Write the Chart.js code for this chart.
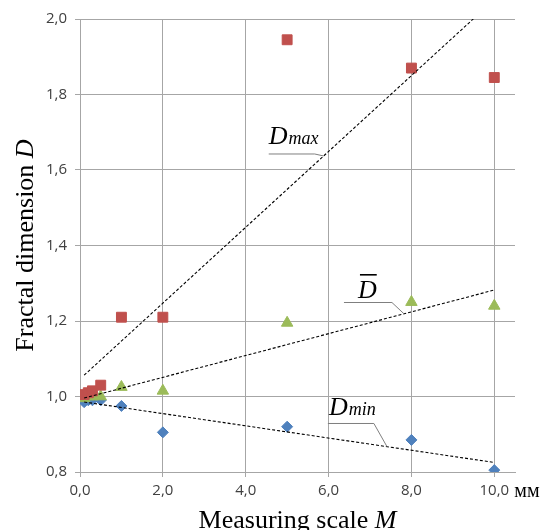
<!DOCTYPE html>
<html>
<head>
<meta charset="utf-8">
<script src="https://cdn.jsdelivr.net/npm/chart.js@4.4.1/dist/chart.umd.min.js"></script>
<style>
  html, body { margin: 0; padding: 0; background: #fff; }
  canvas { display: block; }
</style>
</head>
<body>
<canvas id="myChart" width="542" height="530"></canvas>
<script>
// meetschaal M (mm) en fractale dimensie per reeks
let schaalM = [0.1, 0.2, 0.3, 0.5, 1, 2, 5, 8, 10];
let dMax = [1.005, 1.01, 1.015, 1.03, 1.21, 1.21, 1.945, 1.87, 1.845];
let dGem = [0.995, 1.0, 1.0, 1.0, 1.025, 1.015, 1.195, 1.25, 1.24];
let dMin = [0.985, 0.99, 0.99, 0.99, 0.975, 0.905, 0.92, 0.885, 0.805];

let xTicks = [0, 2, 4, 6, 8, 10];
let yTicks = [0.8, 1.0, 1.2, 1.4, 1.6, 1.8, 2.0];

let rood = "#c0504d";
let groen = "#9bbb59";
let blauw = "#4f81bd";
let rasterkleur = "#a6a6a6";
let serif = '"Liberation Serif", "Times New Roman", serif';

function punten(ys) {
    return schaalM.map((x, i) => ({ x: x, y: ys[i] }));
}

// lineaire trendlijn (kleinste kwadraten)
function trend(ys) {
    let n = schaalM.length, sx = 0, sy = 0, sxx = 0, sxy = 0;
    for (let i = 0; i < n; i++) {
        sx += schaalM[i];
        sy += ys[i];
        sxx += schaalM[i] * schaalM[i];
        sxy += schaalM[i] * ys[i];
    }
    let b = (n * sxy - sx * sy) / (n * sxx - sx * sx);
    let a = (sy - b * sx) / n;
    return x => a + b * x;
}

let fitMax = trend(dMax);
let fitGem = trend(dGem);
let fitMin = trend(dMin);

function trendLijn(f) {
    let x0 = schaalM[0], x1 = schaalM[schaalM.length - 1];
    return {
        data: [{ x: x0, y: f(x0) }, { x: x1, y: f(x1) }],
        showLine: true,
        pointRadius: 0,
        borderColor: "#000",
        borderWidth: 1.1,
        borderDash: [3, 2],
        fill: false
    };
}

function fmt(v) {
    return Number(v).toFixed(1).replace(".", ",");
}

// labels bij de trendlijnen: knik (elbow) in data-eenheden, eindpunt op de lijn
let bijschriften = [
    { f: fitMax, sub: "max", bar: false, ex: 5.666, ey: 1.6424, ax: 5.88, len: 46, dx: 0, dy: -9.5 },
    { f: fitGem, sub: "", bar: true, ex: 7.53, ey: 1.249, ax: 7.82, len: 48, dx: 14, dy: -4.5 },
    { f: fitMin, sub: "min", bar: false, ex: 7.094, ey: 0.9285, ax: 7.41, len: 46, dx: 1, dy: -8 }
];

const bijschriftPlugin = {
    id: "bijschriften",
    afterDatasetsDraw(chart) {
        const c = chart.ctx;
        const xs = chart.scales.x, ys = chart.scales.y;
        c.save();
        bijschriften.forEach(b => {
            const ex = xs.getPixelForValue(b.ex), ey = ys.getPixelForValue(b.ey);
            const px = xs.getPixelForValue(b.ax), py = ys.getPixelForValue(b.f(b.ax));
            c.strokeStyle = "#7f7f7f";
            c.lineWidth = 1;
            c.beginPath();
            c.moveTo(ex - b.len, ey);
            c.lineTo(ex, ey);
            c.lineTo(px, py);
            c.stroke();

            const tx = ex - b.len + b.dx, ty = ey + b.dy;
            c.fillStyle = "#000";
            c.textAlign = "left";
            c.textBaseline = "alphabetic";
            c.font = "italic 26px " + serif;
            c.fillText("D", tx, ty);
            const w = c.measureText("D").width;
            if (b.sub) {
                c.font = "italic 18px " + serif;
                c.fillText(b.sub, tx + w + 1, ty);
            }
            if (b.bar) {
                c.fillRect(tx + 2, ty - 24, w - 2, 1.6);
            }
        });
        c.restore();
    }
};

const astitelPlugin = {
    id: "astitels",
    afterDraw(chart) {
        const c = chart.ctx;
        const a = chart.chartArea;
        c.save();
        c.fillStyle = "#000";
        c.textAlign = "left";
        c.textBaseline = "alphabetic";

        // x-as titel
        c.font = "26px " + serif;
        let w1 = c.measureText("Measuring scale ").width;
        c.font = "italic 26px " + serif;
        let w2 = c.measureText("M").width;
        let sx = (a.left + a.right) / 2 - (w1 + w2) / 2;
        c.font = "26px " + serif;
        c.fillText("Measuring scale ", sx, 528);
        c.font = "italic 26px " + serif;
        c.fillText("M", sx + w1, 528);

        // y-as titel
        c.translate(33, (a.top + a.bottom) / 2);
        c.rotate(-Math.PI / 2);
        c.font = "26px " + serif;
        w1 = c.measureText("Fractal dimension ").width;
        c.font = "italic 26px " + serif;
        w2 = c.measureText("D").width;
        sx = -(w1 + w2) / 2;
        c.font = "26px " + serif;
        c.fillText("Fractal dimension ", sx, 0);
        c.font = "italic 26px " + serif;
        c.fillText("D", sx + w1, 0);
        c.restore();

        // eenheid achter 10,0
        c.save();
        c.font = "20px " + serif;
        c.fillStyle = "#000";
        c.textAlign = "left";
        c.textBaseline = "alphabetic";
        c.fillText("мм", chart.scales.x.getPixelForValue(10) + 20, 497);
        c.restore();
    }
};

const config = {
    type: "scatter",
    data: {
        datasets: [
            trendLijn(fitMax),
            trendLijn(fitGem),
            trendLijn(fitMin),
            {
                label: "Dmax",
                data: punten(dMax),
                pointStyle: "rect",
                pointRadius: 7,
                backgroundColor: rood,
                borderColor: rood,
                borderWidth: 1
            },
            {
                label: "D",
                data: punten(dGem),
                pointStyle: "triangle",
                pointRadius: 6.6,
                backgroundColor: groen,
                borderColor: groen,
                borderWidth: 1
            },
            {
                label: "Dmin",
                data: punten(dMin),
                pointStyle: "rectRot",
                pointRadius: 5.5,
                backgroundColor: blauw,
                borderColor: blauw,
                borderWidth: 1
            }
        ]
    },
    options: {
        responsive: false,
        animation: false,
        events: [],
        layout: { padding: { top: 19, right: 27, left: 0, bottom: 0 } },
        plugins: {
            legend: { display: false },
            tooltip: { enabled: false }
        },
        scales: {
            x: {
                type: "linear",
                min: 0,
                max: 10.5,
                afterBuildTicks: s => { s.ticks = xTicks.map(v => ({ value: v })); },
                afterFit: s => { s.height = 58; },
                grid: { color: rasterkleur, lineWidth: 1, tickLength: 5 },
                border: { color: rasterkleur, width: 1 },
                ticks: {
                    callback: v => fmt(v),
                    font: { family: "Open Sans", size: 15 },
                    color: "#404040",
                    padding: 5,
                    maxRotation: 0
                }
            },
            y: {
                type: "linear",
                min: 0.8,
                max: 2.0,
                afterBuildTicks: s => { s.ticks = yTicks.map(v => ({ value: v })); },
                afterFit: s => { s.width = 80; },
                grid: { color: rasterkleur, lineWidth: 1, tickLength: 5 },
                border: { color: rasterkleur, width: 1 },
                ticks: {
                    callback: v => fmt(v),
                    font: { family: "Open Sans", size: 15 },
                    color: "#404040",
                    padding: 8
                }
            }
        }
    },
    plugins: [bijschriftPlugin, astitelPlugin]
};

let myChart = new Chart(document.getElementById("myChart"), config);
</script>
</body>
</html>
